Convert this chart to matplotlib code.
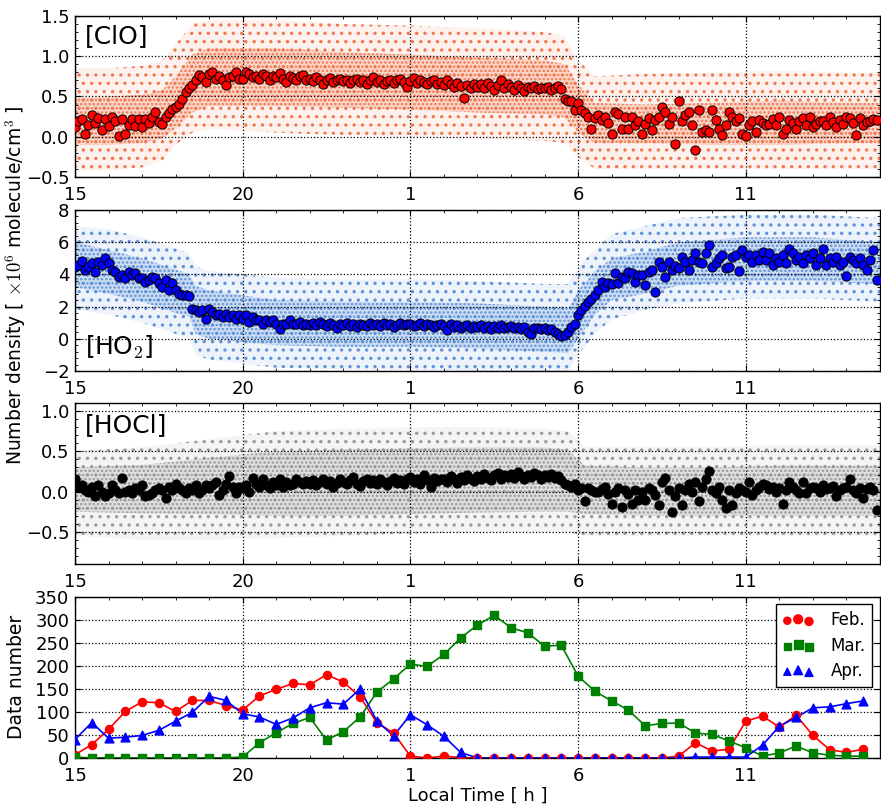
import numpy as np
import matplotlib
matplotlib.use("Agg")
import matplotlib.pyplot as plt
from matplotlib.ticker import MultipleLocator, AutoMinorLocator
from matplotlib.legend_handler import HandlerPathCollection

# ---------------------------------------------------------------------------
# Binned means (6-minute bins of local time; hours > 24 belong to the next day)
# ---------------------------------------------------------------------------
bin_hours = np.round(np.arange(15.0, 39.0, 0.1), 2)

clo_mean = [
    0.12, 0.20, 0.22, 0.03, 0.15, 0.27, 0.17, 0.23, 0.08, 0.22,   # 15 h
    0.13, 0.24, 0.20, 0.01, 0.22, 0.04, 0.14, 0.22, 0.13, 0.22,   # 16 h
    0.12, 0.22, 0.17, 0.25, 0.31, 0.18, 0.16, 0.24, 0.30, 0.34,   # 17 h
    0.37, 0.41, 0.47, 0.55, 0.61, 0.64, 0.70, 0.77, 0.74, 0.68,   # 18 h
    0.78, 0.80, 0.72, 0.76, 0.70, 0.64, 0.74, 0.75, 0.80, 0.72,   # 19 h
    0.72, 0.80, 0.78, 0.74, 0.76, 0.72, 0.78, 0.75, 0.70, 0.76,   # 20 h
    0.74, 0.79, 0.72, 0.68, 0.76, 0.73, 0.71, 0.75, 0.77, 0.70,   # 21 h
    0.72, 0.69, 0.74, 0.70, 0.66, 0.71, 0.73, 0.68, 0.70, 0.72,   # 22 h
    0.69, 0.71, 0.67, 0.70, 0.72, 0.68, 0.70, 0.66, 0.71, 0.74,   # 23 h
    0.68, 0.70, 0.65, 0.69, 0.71, 0.67, 0.70, 0.72, 0.68, 0.62,   # 0 h
    0.69, 0.73, 0.67, 0.70, 0.68, 0.65, 0.69, 0.71, 0.66, 0.68,   # 1 h
    0.64, 0.70, 0.66, 0.62, 0.67, 0.63, 0.48, 0.64, 0.60, 0.66,   # 2 h
    0.62, 0.65, 0.60, 0.67, 0.63, 0.58, 0.64, 0.70, 0.61, 0.66,   # 3 h
    0.62, 0.58, 0.64, 0.60, 0.57, 0.62, 0.60, 0.63, 0.59, 0.61,   # 4 h
    0.60, 0.62, 0.58, 0.61, 0.63, 0.59, 0.47, 0.45, 0.44, 0.33,   # 5 h
    0.42, 0.33, 0.29, 0.25, 0.10, 0.23, 0.27, 0.21, 0.24, 0.17,   # 6 h
    0.04, 0.31, 0.28, 0.10, 0.25, 0.10, 0.25, 0.14, 0.19, 0.04,   # 7 h
    0.16, 0.23, 0.08, 0.21, 0.25, 0.37, 0.31, 0.16, 0.25, -0.09,  # 8 h
    0.44, 0.20, 0.27, 0.31, 0.14, -0.17, 0.33, 0.06, 0.08, 0.06,  # 9 h
    0.33, 0.21, 0.10, 0.02, 0.14, 0.31, 0.25, 0.19, 0.23, 0.04,   # 10 h
    0.01, 0.14, 0.20, 0.06, 0.21, 0.17, 0.14, 0.16, 0.22, 0.14,   # 11 h
    0.25, 0.03, 0.10, 0.21, 0.17, 0.10, 0.19, 0.23, 0.15, 0.25,   # 12 h
    0.12, 0.16, 0.20, 0.19, 0.14, 0.25, 0.18, 0.12, 0.21, 0.16,   # 13 h
    0.25, 0.23, 0.17, 0.02, 0.23, 0.14, 0.18, 0.19, 0.22, 0.21,   # 14 h
]

ho2_mean = [
    4.45, 4.58, 4.80, 4.27, 4.47, 4.68, 4.16, 4.78, 4.58, 5.00,
    4.68, 4.27, 4.16, 3.85, 3.95, 3.75, 4.16, 3.95, 4.06, 3.75,
    3.75, 3.54, 3.64, 3.85, 3.75, 3.44, 3.23, 3.64, 3.02, 3.44,
    3.02, 2.81, 2.71, 2.71, 2.65, 1.88, 1.78, 1.67, 1.78, 1.22,
    1.88, 1.67, 1.46, 1.57, 1.36, 1.57, 1.36, 1.46, 1.26, 1.46,
    1.26, 1.46, 1.05, 1.36, 1.15, 1.15, 0.94, 1.15, 1.05, 1.15,
    0.94, 0.63, 0.94, 0.94, 1.15, 0.94, 0.90, 1.05, 0.85, 0.92,
    0.88, 0.95, 0.84, 1.02, 0.90, 0.80, 0.96, 0.86, 0.70, 0.92,
    0.85, 0.98, 0.82, 0.90, 0.76, 0.93, 0.87, 0.80, 0.95, 0.84,
    0.90, 0.78, 0.97, 0.86, 0.92, 0.74, 0.88, 0.95, 0.83, 0.89,
    0.92, 0.80, 0.87, 0.95, 0.78, 0.90, 0.84, 0.76, 0.88, 0.93,
    0.82, 0.55, 0.90, 0.72, 0.85, 0.65, 0.78, 0.88, 0.70, 0.80,
    0.74, 0.86, 0.68, 0.80, 0.62, 0.77, 0.70, 0.84, 0.66, 0.75,
    0.82, 0.68, 0.75, 0.60, 0.72, 0.40, 0.28, 0.70, 0.64, 0.58,
    0.66, 0.52, 0.60, 0.42, 0.30, 0.15, 0.22, 0.40, 0.73, 0.94,
    1.46, 1.78, 2.05, 2.30, 2.50, 2.70, 3.00, 3.54, 3.23, 3.44,
    3.40, 4.06, 3.44, 3.85, 3.75, 4.16, 4.06, 3.54, 3.95, 3.95,
    3.33, 4.16, 4.27, 2.92, 4.78, 4.47, 3.85, 4.78, 4.27, 4.55,
    4.37, 5.10, 4.78, 4.27, 4.88, 5.30, 4.78, 4.68, 5.30, 5.80,
    4.47, 4.68, 5.00, 5.20, 4.37, 4.47, 5.10, 5.20, 4.20, 5.50,
    5.10, 5.20, 4.78, 5.20, 4.88, 5.40, 4.88, 5.30, 4.58, 4.99,
    4.78, 5.20, 4.68, 5.60, 5.30, 4.88, 5.10, 4.68, 5.20, 4.99,
    5.30, 4.58, 4.99, 5.60, 4.58, 4.99, 4.78, 5.10, 4.58, 4.78,
    3.90, 5.10, 4.88, 4.68, 4.99, 4.58, 4.27, 4.88, 5.50, 3.64,
]

hocl_mean = [
    0.15, 0.06, 0.08, 0.02, 0.00, 0.06, -0.06, 0.08, 0.00, -0.06,
    -0.02, 0.08, 0.02, -0.02, 0.17, 0.00, 0.02, -0.02, 0.04, 0.02,
    0.08, -0.06, -0.04, -0.02, 0.02, 0.04, 0.02, -0.08, 0.06, 0.02,
    0.10, 0.04, 0.02, -0.02, 0.04, 0.02, 0.08, -0.02, 0.02, 0.08,
    0.04, 0.08, 0.12, -0.04, 0.02, 0.10, 0.19, 0.06, -0.02, 0.06,
    0.04, 0.08, 0.00, 0.17, 0.10, 0.06, 0.15, 0.08, 0.04, 0.12,
    0.08, 0.15, 0.06, 0.12, 0.08, 0.10, 0.15, 0.12, 0.09, 0.13,
    0.10, 0.14, 0.08, 0.12, 0.16, 0.10, 0.13, 0.06, 0.11, 0.15,
    0.12, 0.09, 0.14, 0.18, 0.10, 0.07, 0.13, 0.16, 0.11, 0.14,
    0.10, 0.15, 0.12, 0.08, 0.13, 0.17, 0.11, 0.14, 0.09, 0.15,
    0.18, 0.12, 0.16, 0.10, 0.20, 0.14, 0.06, 0.17, 0.13, 0.15,
    0.16, 0.12, 0.19, 0.15, 0.11, 0.18, 0.14, 0.20, 0.16, 0.13,
    0.19, 0.15, 0.22, 0.17, 0.14, 0.20, 0.23, 0.16, 0.21, 0.18,
    0.22, 0.17, 0.24, 0.19, 0.15, 0.21, 0.18, 0.23, 0.20, 0.16,
    0.21, 0.18, 0.22, 0.17, 0.19, 0.14, 0.10, 0.08, 0.06, 0.10,
    0.02, 0.04, -0.12, 0.04, 0.02, 0.00, 0.00, 0.03, 0.06, -0.03,
    -0.15, 0.00, 0.04, -0.19, 0.02, -0.03, -0.15, 0.02, -0.10, 0.00,
    -0.10, 0.04, 0.02, -0.04, -0.17, 0.12, 0.17, 0.02, -0.25, -0.06,
    0.05, -0.17, 0.02, 0.10, 0.00, 0.12, -0.12, 0.06, 0.15, 0.25,
    0.02, -0.02, 0.06, -0.10, -0.21, 0.02, -0.17, -0.02, 0.04, 0.02,
    0.00, 0.12, -0.04, 0.02, 0.06, 0.10, 0.08, 0.03, 0.06, 0.00,
    0.04, -0.15, 0.02, 0.12, 0.06, 0.02, -0.02, 0.12, -0.02, 0.04,
    0.06, 0.04, 0.00, 0.08, 0.03, 0.04, 0.07, -0.06, 0.02, 0.05,
    0.06, 0.15, 0.02, -0.02, 0.05, -0.08, 0.03, 0.06, 0.02, -0.23,
]

# ---------------------------------------------------------------------------
# Spread of the individual retrievals: dense core and sparse outer envelope
# ---------------------------------------------------------------------------
clo_env_hours = [15, 16, 17, 17.6, 18.0, 18.5, 19, 21, 23, 25, 27, 29, 29.6, 30.0, 30.5, 32, 34, 36, 38, 39]
clo_core_lo = [-0.10, -0.10, -0.08, -0.02, 0.10, 0.30, 0.38, 0.38, 0.36, 0.34, 0.30, 0.28, 0.24, 0.05, -0.08, -0.08, -0.10, -0.10, -0.08, -0.08]
clo_core_hi = [0.48, 0.50, 0.52, 0.58, 0.75, 1.02, 1.10, 1.10, 1.05, 1.02, 0.98, 0.95, 0.90, 0.65, 0.42, 0.40, 0.42, 0.45, 0.42, 0.42]
clo_out_lo = [-0.42, -0.42, -0.38, -0.30, -0.10, 0.05, 0.10, 0.05, 0.02, 0.00, -0.02, -0.05, -0.08, -0.25, -0.40, -0.40, -0.40, -0.40, -0.40, -0.40]
clo_out_hi = [0.85, 0.85, 0.88, 0.95, 1.15, 1.40, 1.45, 1.45, 1.40, 1.38, 1.35, 1.30, 1.25, 0.95, 0.75, 0.78, 0.80, 0.82, 0.80, 0.80]

ho2_env_hours = [15, 16, 17, 18, 18.4, 18.6, 19, 21, 23, 25, 27, 29, 29.7, 30.0, 30.5, 31, 32, 33, 35, 37, 39]
ho2_core_lo = [3.2, 2.8, 2.3, 1.6, 1.4, 0.3, 0.0, -0.4, -0.5, -0.5, -0.6, -0.8, -0.9, 0.0, 1.5, 2.4, 2.8, 3.3, 3.6, 3.6, 3.4]
ho2_core_hi = [6.0, 5.5, 5.0, 4.3, 4.0, 3.3, 3.0, 2.4, 2.3, 2.3, 2.2, 2.0, 1.9, 3.0, 4.2, 5.0, 5.4, 6.0, 6.3, 6.3, 6.0]
ho2_out_lo = [1.8, 1.5, 1.0, 0.3, 0.0, -1.0, -1.3, -1.8, -1.9, -1.9, -2.0, -2.0, -2.0, -1.0, 0.3, 1.2, 1.8, 2.2, 2.5, 2.5, 2.3]
ho2_out_hi = [7.0, 6.8, 6.3, 5.6, 5.3, 4.5, 4.2, 3.8, 3.7, 3.7, 3.6, 3.4, 3.4, 4.5, 5.5, 6.5, 7.0, 7.5, 7.7, 7.7, 7.5]

hocl_env_hours = [15, 17, 19, 21, 23, 25, 27, 29, 29.7, 30.2, 32, 34, 36, 38, 39]
hocl_core_lo = [-0.25, -0.27, -0.28, -0.30, -0.30, -0.28, -0.26, -0.25, -0.25, -0.28, -0.30, -0.30, -0.30, -0.30, -0.30]
hocl_core_hi = [0.30, 0.33, 0.42, 0.50, 0.52, 0.54, 0.55, 0.55, 0.52, 0.32, 0.30, 0.30, 0.32, 0.32, 0.32]
hocl_out_lo = [-0.55, -0.60, -0.60, -0.58, -0.55, -0.52, -0.50, -0.50, -0.50, -0.55, -0.55, -0.55, -0.55, -0.55, -0.55]
hocl_out_hi = [0.50, 0.55, 0.65, 0.75, 0.78, 0.80, 0.80, 0.78, 0.75, 0.55, 0.55, 0.55, 0.58, 0.58, 0.58]

# ---------------------------------------------------------------------------
# Number of profiles per half-hour bin and month
# ---------------------------------------------------------------------------
count_hours = np.arange(15.0, 39.0, 0.5)
feb_counts = [7, 29, 62, 101, 122, 120, 101, 125, 125, 114, 104, 135, 149, 162,
              159, 181, 165, 133, 77, 54, 4, 0, 4, 1, 0, 0, 0, 0,
              0, 0, 0, 0, 0, 0, 0, 0, 4, 33, 15, 19, 80, 91,
              67, 93, 49, 18, 12, 19]
mar_counts = [2, 0, 0, 0, 0, 0, 0, 0, 0, 0, 2, 33, 55, 75,
              88, 39, 57, 89, 143, 172, 204, 199, 225, 261, 289, 310, 283, 272,
              243, 245, 178, 145, 124, 104, 70, 75, 76, 54, 51, 37, 22, 4,
              11, 26, 11, 6, 4, 4]
apr_counts = [40, 77, 43, 45, 49, 60, 80, 99, 134, 125, 96, 89, 73, 87,
              109, 120, 117, 150, 80, 48, 94, 72, 47, 12, 0, 0, 0, 0,
              0, 0, 0, 0, 0, 0, 0, 0, 0, 2, 2, 2, 2, 28,
              69, 88, 109, 111, 118, 124]
month_labels = ["Feb.", "Mar.", "Apr."]

hour_ticks = [15, 20, 25, 30, 35]
hour_ticklabels = ["15", "20", "1", "6", "11"]

# ---------------------------------------------------------------------------
plt.rcParams.update({
    "font.family": "DejaVu Sans",
    "font.size": 13,
    "mathtext.fontset": "cm",
    "xtick.direction": "in",
    "ytick.direction": "in",
    "xtick.top": True,
    "ytick.right": True,
    "xtick.major.size": 4,
    "ytick.major.size": 4,
    "xtick.minor.size": 2,
    "ytick.minor.size": 2,
    "xtick.major.pad": 6.5,
    "ytick.major.pad": 4,
    "axes.linewidth": 1.0,
    "hatch.linewidth": 1.2,
})

fig = plt.figure(figsize=(8.81, 8.06), dpi=100)
left, width, height = 0.0851, 0.9137, 0.1998
bottoms = [0.7804, 0.5397, 0.3002, 0.0596]
axes = [fig.add_axes([left, b, width, height]) for b in bottoms]


def style_time_axis(ax):
    ax.set_xlim(15, 39)
    ax.set_xticks(hour_ticks)
    ax.set_xticklabels(hour_ticklabels)
    ax.xaxis.set_minor_locator(MultipleLocator(1))
    ax.grid(True, which="major", linestyle=":", color="k", linewidth=0.9)


def species_panel(ax, mean, env_x, core_lo, core_hi, out_lo, out_hi,
                  cloud_color, face, ylim, yticks, label, label_y, label_va):
    # sparse outer cloud
    ax.fill_between(env_x, out_lo, out_hi, facecolor=cloud_color, alpha=0.10,
                    linewidth=0, zorder=1)
    ax.fill_between(env_x, out_lo, out_hi, facecolor="none",
                    edgecolor=cloud_color, hatch="..", linewidth=0, zorder=1)
    # dense core of the cloud
    ax.fill_between(env_x, core_lo, core_hi, facecolor=cloud_color, alpha=0.22,
                    linewidth=0, zorder=1)
    ax.fill_between(env_x, core_lo, core_hi, facecolor="none",
                    edgecolor=cloud_color, hatch="....", linewidth=0, zorder=1)
    ax.scatter(bin_hours, mean, s=44, facecolor=face, edgecolor="k",
               linewidths=0.7, zorder=3)
    style_time_axis(ax)
    ax.set_ylim(*ylim)
    ax.set_yticks(yticks)
    ax.yaxis.set_minor_locator(AutoMinorLocator(5))
    ax.text(0.012, label_y, label, transform=ax.transAxes, fontsize=18,
            ha="left", va=label_va, zorder=5)


species_panel(axes[0], clo_mean, clo_env_hours, clo_core_lo, clo_core_hi,
              clo_out_lo, clo_out_hi, "#f07850", "#ff0000",
              (-0.5, 1.5), [-0.5, 0.0, 0.5, 1.0, 1.5], "[ClO]", 0.95, "top")
species_panel(axes[1], ho2_mean, ho2_env_hours, ho2_core_lo, ho2_core_hi,
              ho2_out_lo, ho2_out_hi, "#5f93d8", "#0000ff",
              (-2, 8), [-2, 0, 2, 4, 6, 8], "[HO$_2$]", 0.1, "baseline")
species_panel(axes[2], hocl_mean, hocl_env_hours, hocl_core_lo, hocl_core_hi,
              hocl_out_lo, hocl_out_hi, "#9a9a9a", "#000000",
              (-0.9, 1.1), [-0.5, 0.0, 0.5, 1.0], "[HOCl]", 0.94, "top")

# Monthly sample counts
ax4 = axes[3]
month_series = [(feb_counts, "#ff0000", "o", 34),
                (mar_counts, "#008000", "s", 30),
                (apr_counts, "#0000ff", "^", 40)]
handles = []
for (counts, color, marker, size), name in zip(month_series, month_labels):
    ax4.plot(count_hours, counts, "-", color=color, linewidth=1.2, zorder=2)
    h = ax4.scatter(count_hours, counts, s=size, marker=marker, color=color,
                    edgecolor=color, zorder=3, label=name)
    handles.append(h)
style_time_axis(ax4)
ax4.set_ylim(0, 350)
ax4.set_yticks(np.arange(0, 351, 50))
ax4.set_xlabel("Local Time [ h ]", labelpad=1)

legend_sizes = HandlerPathCollection(sizes=[26, 40, 33])
leg = ax4.legend(handles=handles, loc="upper right", scatterpoints=3,
                 fancybox=False, framealpha=1, edgecolor="k", fontsize=12,
                 handler_map={h: legend_sizes for h in handles},
                 borderaxespad=0.45, handlelength=1.9, handletextpad=1.0,
                 labelspacing=0.45, borderpad=0.4)
leg.get_frame().set_linewidth(1.0)

fig.text(16 / 881, 1 - 285 / 806,
         r"Number density [ $\times10^6$ molecule/cm$^3$ ]",
         rotation=90, ha="center", va="center", fontsize=13.5)
fig.text(17 / 881, 1 - 677 / 806, "Data number",
         rotation=90, ha="center", va="center", fontsize=13.5)

fig.savefig("out.png", dpi=100)
